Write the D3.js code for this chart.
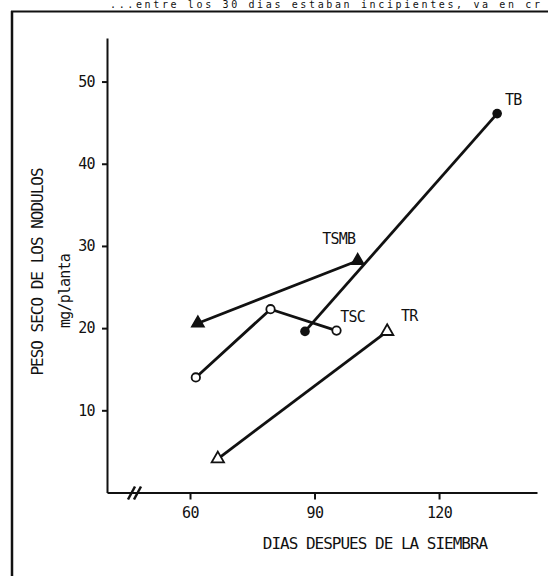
<!DOCTYPE html>
<html>
<head>
<meta charset="utf-8">
<script src="https://cdn.jsdelivr.net/npm/d3@7"></script>
<style>
    html, body { margin: 0; padding: 0; background: #fff; }
    svg text { font-family: 'DejaVu Sans Mono', monospace; fill: #111; }
</style>
</head>
<body>
<svg id="chart" width="548" height="576"></svg>
<script>
'use strict';

// series: [dias, mg/planta]
var tb = [[87.7, 19.6], [134, 46.1]];
var tsmb = [[61.9, 20.6], [100.4, 28.2]];
var tsc = [[61.4, 14.0], [79.4, 22.3], [95.3, 19.7]];
var tr = [[66.7, 4.1], [107.5, 19.6]];

var xTicks = [60, 90, 120];
var yTicks = [10, 20, 30, 40, 50];
var seriesNames = ['TB', 'TSMB', 'TSC', 'TR'];

var svg = d3.select('#chart');

var x = d3.scaleLinear().domain([40, 143.6]).range([107, 537]);
var y = d3.scaleLinear().domain([0, 55.3]).range([492.5, 38]);

// page frame and the line of text above it
svg.append('text')
    .attr('x', 110)
    .attr('y', 8)
    .attr('font-size', 10)
    .attr('textLength', 430)
    .attr('lengthAdjust', 'spacing')
    .text('...entre los 30 dias estaban incipientes, va en cr');

svg.append('line')
    .attr('x1', 11).attr('x2', 548)
    .attr('y1', 11.5).attr('y2', 11.5)
    .attr('stroke', '#111').attr('stroke-width', 2);
svg.append('line')
    .attr('x1', 12).attr('x2', 12)
    .attr('y1', 11).attr('y2', 576)
    .attr('stroke', '#111').attr('stroke-width', 2.5);

// axes
var yAxis = d3.axisLeft(y)
    .tickValues(yTicks)
    .tickSize(5)
    .tickPadding(7)
    .tickSizeOuter(0);
var xAxis = d3.axisBottom(x)
    .tickValues(xTicks)
    .tickSize(7)
    .tickPadding(8)
    .tickSizeOuter(0);

var gy = svg.append('g')
    .attr('transform', 'translate(' + x.range()[0] + ',0)')
    .call(yAxis);
var gx = svg.append('g')
    .attr('transform', 'translate(0,' + y.range()[0] + ')')
    .call(xAxis);

[gx, gy].forEach(function (g) {
    g.select('.domain').attr('stroke', '#111').attr('stroke-width', 2);
    g.selectAll('.tick line').attr('stroke', '#111').attr('stroke-width', 2);
    g.selectAll('.tick text')
        .attr('font-size', 15)
        .attr('letter-spacing', '-0.6px')
        .attr('fill', '#111')
        .style('font-family', "'DejaVu Sans Mono', monospace");
});

// axis break on the x axis
var bx = x.range()[0] + 28;
var by = y.range()[0];
[-3, 3].forEach(function (d) {
    svg.append('line')
        .attr('x1', bx + d - 4).attr('y1', by + 7)
        .attr('x2', bx + d + 3).attr('y2', by - 6)
        .attr('stroke', '#111').attr('stroke-width', 2.5);
});

// axis titles
svg.append('text')
    .attr('x', 375)
    .attr('y', 549)
    .attr('text-anchor', 'middle')
    .attr('font-size', 16)
    .attr('letter-spacing', '-1px')
    .text('DIAS DESPUES DE LA SIEMBRA');

svg.append('text')
    .attr('transform', 'translate(43,272) rotate(-90)')
    .attr('text-anchor', 'middle')
    .attr('font-size', 16)
    .attr('letter-spacing', '-1px')
    .text('PESO SECO DE LOS NODULOS');

svg.append('text')
    .attr('transform', 'translate(70,291) rotate(-90)')
    .attr('text-anchor', 'middle')
    .attr('font-size', 15)
    .attr('letter-spacing', '-0.8px')
    .text('mg/planta');

// lines
var line = d3.line()
    .x(function (d) { return x(d[0]); })
    .y(function (d) { return y(d[1]); });

var allSeries = [tb, tsmb, tsc, tr];
allSeries.forEach(function (s) {
    svg.append('path')
        .datum(s)
        .attr('d', line)
        .attr('fill', 'none')
        .attr('stroke', '#111')
        .attr('stroke-width', 2.8);
});

// markers
svg.selectAll('.tb').data(tb).enter().append('circle')
    .attr('cx', function (d) { return x(d[0]); })
    .attr('cy', function (d) { return y(d[1]); })
    .attr('r', 4.8)
    .attr('fill', '#111');

svg.selectAll('.tsc').data(tsc).enter().append('circle')
    .attr('cx', function (d) { return x(d[0]); })
    .attr('cy', function (d) { return y(d[1]); })
    .attr('r', 4.2)
    .attr('fill', '#fff')
    .attr('stroke', '#111')
    .attr('stroke-width', 1.8);

var tri = d3.symbol().type(d3.symbolTriangle).size(66);

svg.selectAll('.tsmb').data(tsmb).enter().append('path')
    .attr('d', tri)
    .attr('transform', function (d) { return 'translate(' + x(d[0]) + ',' + y(d[1]) + ')'; })
    .attr('fill', '#111')
    .attr('stroke', '#111')
    .attr('stroke-width', 1.5);

svg.selectAll('.tr').data(tr).enter().append('path')
    .attr('d', tri)
    .attr('transform', function (d) { return 'translate(' + x(d[0]) + ',' + y(d[1]) + ')'; })
    .attr('fill', '#fff')
    .attr('stroke', '#111')
    .attr('stroke-width', 1.8);

// series labels placed next to the last point of each series
var labelOffsets = [[16, -14], [-19, -22], [16, -14], [22, -15]];
allSeries.forEach(function (s, i) {
    var last = s[s.length - 1];
    svg.append('text')
        .attr('x', x(last[0]) + labelOffsets[i][0])
        .attr('y', y(last[1]) + labelOffsets[i][1] + 5)
        .attr('text-anchor', 'middle')
        .attr('font-size', 15)
        .attr('letter-spacing', '-0.8px')
        .text(seriesNames[i]);
});
</script>
</body>
</html>
